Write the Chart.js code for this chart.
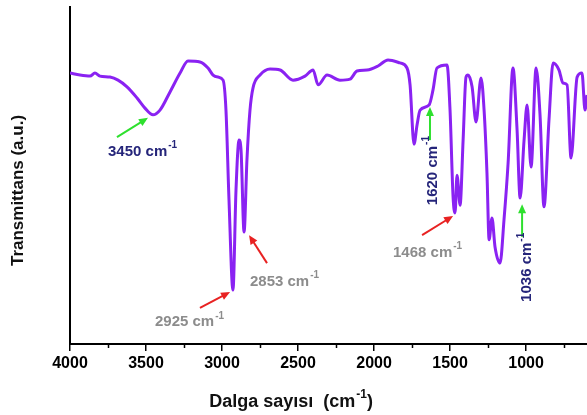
<!DOCTYPE html>
<html lang="tr">
<head>
<meta charset="UTF-8">
<title>FTIR spektrumu</title>
<script src="https://cdn.jsdelivr.net/npm/chart.js"></script>
<style>
  html, body { margin: 0; padding: 0; background: #fff; }
</style>
</head>
<body>
<canvas id="ftir" width="587" height="415"></canvas>
<script>
// spectrum: wavenumber (cm-1) and transmittance (a.u., 0 = axis bottom)
const wavenumbers = [
  4000, 3934, 3868, 3836, 3803, 3737, 3684, 3625, 3559, 3507,
  3454, 3408, 3342, 3276, 3224, 3145, 3092, 3059, 3026, 2993,
  2974, 2954, 2928, 2908, 2888, 2875, 2855, 2836, 2816, 2796,
  2750, 2684, 2618, 2533, 2454, 2401, 2368, 2309, 2224, 2158,
  2112, 2046, 1974, 1908, 1829, 1783, 1763, 1737, 1717, 1697,
  1638, 1612, 1586, 1520, 1500, 1480, 1467, 1454, 1434, 1414,
  1395, 1382, 1355, 1329, 1296, 1276, 1257, 1243, 1224, 1204,
  1171, 1145, 1118, 1086, 1059, 1039, 1013, 993, 967, 934,
  908, 882, 849, 822, 783, 757, 730, 704, 664, 632,
  612, 599
];
const transmittance = [
  80.4, 79.8, 79.5, 80.4, 79.5, 79.2, 78.3, 76.3, 73.0, 70.0,
  68.0, 69.4, 74.8, 80.4, 84.0, 83.7, 81.9, 79.8, 79.2, 78.3,
  69.4, 42.7, 16.0, 45.7, 60.5, 57.6, 33.2, 54.6, 69.4, 76.0,
  79.8, 81.6, 81.3, 78.3, 79.5, 81.3, 76.9, 79.8, 78.3, 78.6,
  81.0, 81.3, 82.5, 84.3, 83.4, 81.9, 76.9, 59.3, 65.0, 69.4,
  70.9, 75.4, 81.9, 82.8, 69.4, 43.6, 38.9, 50.1, 41.2, 60.5,
  79.2, 79.8, 76.3, 65.9, 78.9, 69.4, 50.7, 30.9, 37.4, 28.8,
  24.0, 36.8, 53.7, 81.9, 63.5, 43.3, 60.5, 70.9, 52.5, 81.9,
  68.0, 40.7, 66.5, 83.4, 81.3, 77.4, 76.9, 55.2, 79.2, 80.4,
  69.4, 73.9
];
const majorTicks = [4000, 3500, 3000, 2500, 2000, 1500, 1000];
const minorTicks = [3750, 3250, 2750, 2250, 1750, 1250, 750];
const peakLabels = ['3450', '2925', '2853', '1468', '1620', '1036'];

const FONT = '"Liberation Sans", Arial, sans-serif';
const NAVY = '#25257a';
const GREY = '#8c8c8c';
const GREEN = '#2ee02e';
const RED = '#e82222';

// where each label sits, in data units (wavenumber, transmittance)
const labelLayout = {
  '3450': { at: [3750, 57.0], color: NAVY, arrow: [[3691, 61.4], [3487, 67.1]], arrowColor: GREEN },
  '2925': { at: [3441, 6.5], color: GREY, arrow: [[3145, 10.7], [2947, 15.4]], arrowColor: RED },
  '2853': { at: [2816, 18.4], color: GREY, arrow: [[2704, 24.0], [2822, 32.3]], arrowColor: RED },
  '1468': { at: [1875, 27.0], color: GREY, arrow: [[1684, 32.3], [1480, 38.0]], arrowColor: RED },
  '1620': { at: [1612, 41.2], color: NAVY, rotated: true, arrow: [[1632, 60.5], [1632, 70.3]], arrowColor: GREEN },
  '1036': { at: [993, 12.5], color: NAVY, rotated: true, arrow: [[1026, 31.8], [1026, 41.5]], arrowColor: GREEN }
};

function drawArrow(ctx, x1, y1, x2, y2, color) {
  const a = Math.atan2(y2 - y1, x2 - x1);
  const h = 9, w = 4;
  ctx.save();
  ctx.strokeStyle = color;
  ctx.fillStyle = color;
  ctx.lineWidth = 2;
  ctx.beginPath();
  ctx.moveTo(x1, y1);
  ctx.lineTo(x2 - h * 0.8 * Math.cos(a), y2 - h * 0.8 * Math.sin(a));
  ctx.stroke();
  ctx.beginPath();
  ctx.moveTo(x2, y2);
  ctx.lineTo(x2 - h * Math.cos(a) + w * Math.sin(a), y2 - h * Math.sin(a) - w * Math.cos(a));
  ctx.lineTo(x2 - h * Math.cos(a) - w * Math.sin(a), y2 - h * Math.sin(a) + w * Math.cos(a));
  ctx.closePath();
  ctx.fill();
  ctx.restore();
}

// text with a "-1" superscript, optional closing text after it; returns total width
function supText(ctx, x, y, main, sup, after, size, measureOnly) {
  const supSize = Math.round(size * 0.66);
  ctx.font = `bold ${size}px ${FONT}`;
  const w1 = ctx.measureText(main).width;
  const wa = after ? ctx.measureText(after).width : 0;
  ctx.font = `bold ${supSize}px ${FONT}`;
  const w2 = ctx.measureText(sup).width;
  const total = w1 + 1 + w2 + wa;
  if (measureOnly) return total;
  ctx.textAlign = 'left';
  ctx.textBaseline = 'middle';
  ctx.font = `bold ${size}px ${FONT}`;
  ctx.fillText(main, x, y);
  if (after) ctx.fillText(after, x + w1 + 1 + w2, y);
  ctx.font = `bold ${supSize}px ${FONT}`;
  ctx.fillText(sup, x + w1 + 1, y - size * 0.42);
  return total;
}

const decorations = {
  id: 'decorations',
  afterDraw(chart) {
    const ctx = chart.ctx;
    const xs = chart.scales.x, ys = chart.scales.y;
    const area = chart.chartArea;

    // minor ticks under the x axis
    ctx.save();
    ctx.strokeStyle = '#000';
    ctx.lineWidth = 1.5;
    minorTicks.forEach(v => {
      const px = Math.round(xs.getPixelForValue(v)) + 0.5;
      ctx.beginPath();
      ctx.moveTo(px, area.bottom);
      ctx.lineTo(px, area.bottom + 4);
      ctx.stroke();
    });
    ctx.restore();

    // peak annotations
    peakLabels.forEach(p => {
      const l = labelLayout[p];
      const [a1, a2] = l.arrow;
      drawArrow(ctx, xs.getPixelForValue(a1[0]), ys.getPixelForValue(a1[1]),
        xs.getPixelForValue(a2[0]), ys.getPixelForValue(a2[1]), l.arrowColor);
      const px = xs.getPixelForValue(l.at[0]);
      const py = ys.getPixelForValue(l.at[1]);
      ctx.save();
      ctx.fillStyle = l.color;
      if (l.rotated) {
        ctx.translate(px, py);
        ctx.rotate(-Math.PI / 2);
        supText(ctx, 0, 0, p + ' cm', '-1', '', 15);
      } else {
        supText(ctx, px, py, p + ' cm', '-1', '', 15);
      }
      ctx.restore();
    });

    // axis titles
    ctx.save();
    ctx.fillStyle = '#111';
    const tw = supText(ctx, 0, 0, 'Dalga sayısı  (cm', '-1', ')', 18, true);
    supText(ctx, area.left + 221 - tw / 2, area.bottom + 58, 'Dalga sayısı  (cm', '-1', ')', 18);
    ctx.translate(18, (area.top + area.bottom) / 2 + 15);
    ctx.rotate(-Math.PI / 2);
    ctx.font = `bold 17px ${FONT}`;
    ctx.textAlign = 'center';
    ctx.textBaseline = 'middle';
    ctx.fillText('Transmittans (a.u.)', 0, 0);
    ctx.restore();
  }
};

new Chart(document.getElementById('ftir'), {
  type: 'line',
  data: {
    datasets: [{
      data: wavenumbers.map((w, i) => ({ x: w, y: transmittance[i] })),
      borderColor: '#8a22f2',
      borderWidth: 3,
      pointRadius: 0,
      fill: false,
      cubicInterpolationMode: 'monotone'
    }]
  },
  options: {
    responsive: false,
    animation: false,
    devicePixelRatio: 1,
    layout: { padding: { top: 7, left: 0, right: 0, bottom: 0 } },
    plugins: { legend: { display: false }, tooltip: { enabled: false } },
    scales: {
      x: {
        type: 'linear',
        reverse: true,
        min: 599,
        max: 4000,
        afterFit: s => { s.height = 71; },
        afterBuildTicks: s => {
          s.ticks = majorTicks.map(v => ({ value: v }));
        },
        ticks: {
          color: '#000',
          padding: 3,
          maxRotation: 0,
          callback: v => String(v),
          font: { family: FONT, size: 16, weight: 'bold' }
        },
        grid: { drawOnChartArea: false, tickLength: 7, color: '#000', lineWidth: 1.5 },
        border: { color: '#000', width: 2 }
      },
      y: {
        min: 0,
        max: 100,
        afterFit: s => { s.width = 70; },
        ticks: { display: false },
        grid: { display: false },
        border: { color: '#000', width: 2 }
      }
    }
  },
  plugins: [decorations]
});
</script>
</body>
</html>
